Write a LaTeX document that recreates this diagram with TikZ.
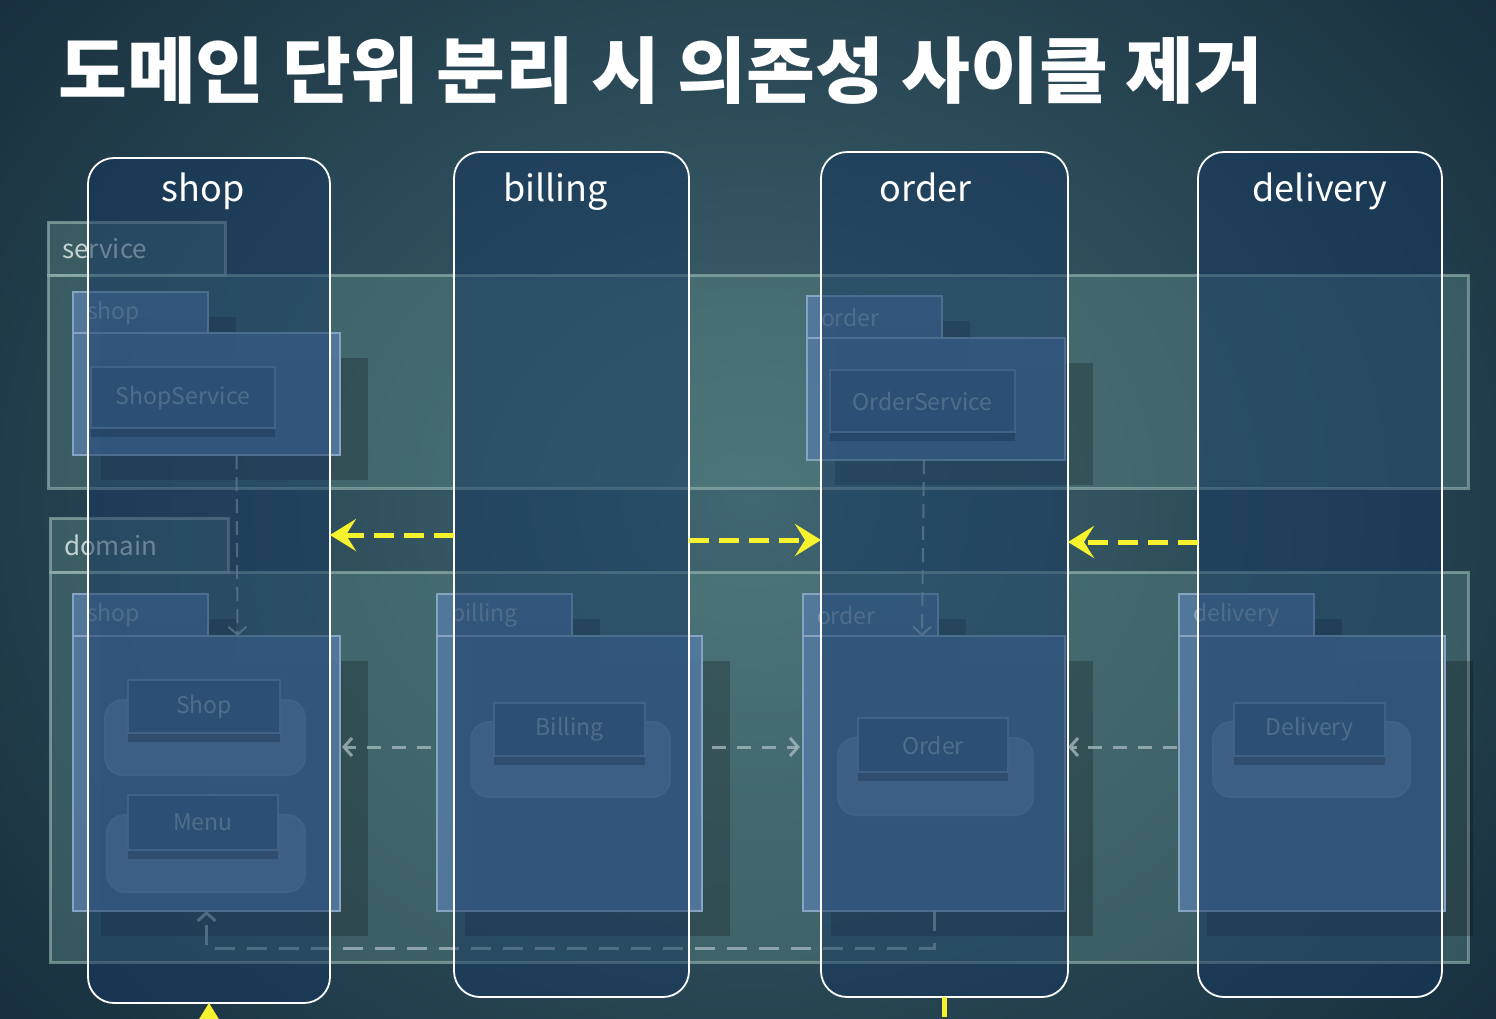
\documentclass[tikz,border=0pt]{standalone}
\usepackage{fontspec}
\setmainfont{Noto Sans CJK KR}
\usetikzlibrary{arrows.meta,shadows}

\definecolor{bgdark}{HTML}{18303F}
\definecolor{bglight}{HTML}{416772}
\definecolor{grpfill}{HTML}{5E8C88}
\definecolor{grpline}{HTML}{9DBAB6}
\definecolor{colfill}{HTML}{15375F}
\definecolor{subfill}{HTML}{5379A0}
\definecolor{subline}{HTML}{86A4C2}
\definecolor{clsfill}{HTML}{46698F}
\definecolor{clsline}{HTML}{6E8EB2}
\definecolor{blobfill}{HTML}{6688AC}
\definecolor{dimtext}{HTML}{8DA3B8}
\definecolor{deptext}{HTML}{C5D2D2}
\definecolor{depgray}{HTML}{A8BCC0}
\definecolor{cycyellow}{HTML}{F6F22E}
\newcommand{\tabtext}[1]{\hspace*{14pt}\raisebox{-4pt}{#1}}

\begin{document}
\begin{tikzpicture}[x=1pt,y=-1pt,
  box/.style={anchor=north west,inner sep=0pt,outer sep=0pt},
  grp/.style={box,draw=grpline,draw opacity=0.6,line width=3pt,fill=grpfill,fill opacity=0.4,text opacity=1},
  grptab/.style={grp,text=deptext,align=left,font=\fontsize{26}{26}\selectfont},
  sub/.style={box,draw=subline,line width=2pt,fill=subfill,fill opacity=0.9,text opacity=1,
    drop shadow={shadow xshift=28pt,shadow yshift=-25pt,opacity=0.22,fill=black}},
  subtab/.style={sub,text=dimtext,align=left,font=\fontsize{23}{23}\selectfont},
  cls/.style={box,draw=clsline,line width=1.5pt,fill=clsfill,text=dimtext,font=\fontsize{23}{23}\selectfont,
    drop shadow={shadow xshift=0pt,shadow yshift=-9pt,opacity=0.25,fill=black}},
  blob/.style={box,draw=clsline,line width=2pt,fill=blobfill,rounded corners=18pt},
  col/.style={box,draw=white,line width=1.8pt,fill=colfill,fill opacity=0.5,rounded corners=26pt},
  colname/.style={text=white,font=\fontsize{36}{36}\selectfont,anchor=base,inner sep=0pt},
  dep/.style={depgray,draw opacity=0.75,line width=3pt,dash pattern=on 14pt off 11pt,
    -{Straight Barb[length=8pt,width=18pt]}},
  cyc/.style={cycyellow,line width=5pt,dash pattern=on 20pt off 10pt,
    -{Stealth[length=26pt,width=32pt,inset=10pt]}}]
  \useasboundingbox (0,0) rectangle (1496,1018);
  \clip (0,0) rectangle (1496,1018);
  \shade[inner color=bglight,outer color=bgdark] (-200,-300) rectangle (1700,1300);

  % layers
  \node[grptab,text width=177pt,minimum height=53pt] (svctab) at (48,222) {\tabtext{service}};
  \node[grp,minimum width=1420pt,minimum height=213pt] (svc) at (48,275) {};
  \node[grptab,text width=178pt,minimum height=54pt] (domtab) at (50,518) {\tabtext{domain}};
  \node[grp,minimum width=1418pt,minimum height=390pt] (dom) at (50,572) {};

  % service packages
  \node[subtab,text width=135pt,minimum height=41pt] (sshoptab) at (73,292) {\tabtext{shop}};
  \node[sub,minimum width=267pt,minimum height=122pt] (sshop) at (73,333) {};
  \node[subtab,text width=135pt,minimum height=42pt] (sordertab) at (807,296) {\tabtext{order}};
  \node[sub,minimum width=258pt,minimum height=122pt] (sorder) at (807,338) {};
  \node[cls,minimum width=184pt,minimum height=61pt] (shopsvc) at (91,367) {ShopService};
  \node[cls,minimum width=185pt,minimum height=62pt] (ordersvc) at (830,370) {OrderService};

  % domain packages
  \foreach \n/\x/\w/\t in {shop/73/267/shop,bill/437/265/billing,order/803/262/order,deliv/1179/266/delivery} {
    \node[subtab,text width=135pt,minimum height=42pt] (d\n tab) at (\x,594) {\tabtext{\t}};
    \node[sub,minimum width=\w pt,minimum height=275pt] (d\n) at (\x,636) {};
  }
  \foreach \n/\bx/\by/\bw/\bh/\cx/\cy/\cw/\ch/\t in {
      shop/105/700/200/75/128/680/152/53/Shop,
      menu/107/815/198/77/128/795/150/55/Menu,
      bill/471/722/199/75/494/703/151/53/Billing,
      order/838/738/195/77/858/718/150/54/Order,
      deliv/1213/722/197/75/1234/703/151/53/Delivery} {
    \node[blob,minimum width=\bw pt,minimum height=\bh pt] (\n blob) at (\bx,\by) {};
    \node[cls,minimum width=\cw pt,minimum height=\ch pt] (c\n) at (\cx,\cy) {\t};
  }

  % package dependencies
  \coordinate (gy) at (0,747);
  \draw[dep,dash pattern=on 14pt off 8pt,line width=2pt] ([xshift=30pt]sshop.south) -- ([xshift=31pt]dshop.north);
  \draw[dep,dash pattern=on 14pt off 8pt,line width=2pt] ([xshift=-12pt]sorder.south) -- ([xshift=-12pt]dorder.north);
  \draw[dep,shorten <=6pt,shorten >=2pt] (dbill.west |- gy) -- (dshop.east |- gy);
  \draw[dep,shorten <=10pt,shorten >=3pt] (dbill.east |- gy) -- (dorder.west |- gy);
  \draw[dep,shorten <=2pt,shorten >=3pt] (ddeliv.west |- gy) -- (dorder.east |- gy);
  \draw[dep,dash pattern=on 20pt off 12pt] (dorder.south) -- ++(0,37) -| (dshop.south);

  % domains
  \node[col,minimum width=242pt,minimum height=845pt] (scol) at (88,158) {};
  \node[col,minimum width=235pt,minimum height=845pt] (bcol) at (454,152) {};
  \node[col,minimum width=247pt,minimum height=845pt] (ocol) at (821,152) {};
  \node[col,minimum width=244pt,minimum height=845pt] (dcol) at (1198,152) {};
  \coordinate (nb) at (0,201);
  \foreach \c/\t/\dx in {scol/shop/-6,bcol/billing/-16,ocol/order/-19,dcol/delivery/0}
    \node[colname,xshift=\dx pt] (\c name) at (\c.north |- nb) {\t};

  % removed cycle
  \coordinate (ya) at (0,535);
  \coordinate (yb) at (0,540);
  \coordinate (yc) at (0,542);
  \draw[cyc] (bcol.west |- ya) -- (scol.east |- ya);
  \draw[cyc] (bcol.east |- yb) -- (ocol.west |- yb);
  \draw[cyc] (dcol.west |- yc) -- (ocol.east |- yc);
  \draw[cyc] (ocol.south) -- ++(0,60) -| (scol.south);

  \node[anchor=west,inner sep=0pt,text=white,font=\fontsize{72}{72}\selectfont\bfseries,
    transform shape,xscale=1.04] (title) at (58,71) {도메인 단위 분리 시 의존성 사이클 제거};
\end{tikzpicture}
\end{document}
